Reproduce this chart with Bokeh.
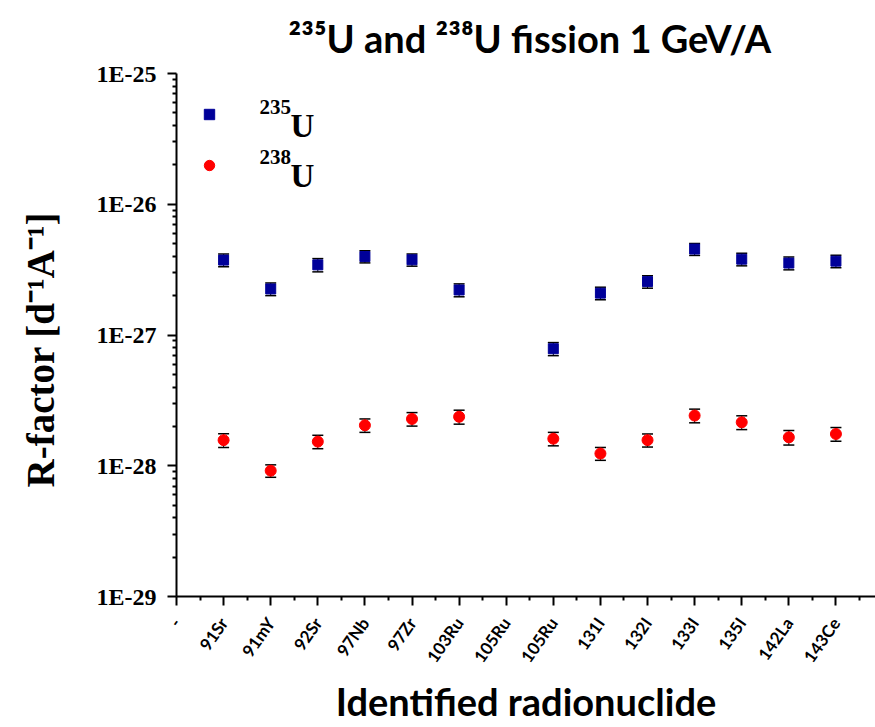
import numpy as np
from bokeh.plotting import figure
from bokeh.models import (ColumnDataSource, Range1d, FixedTicker, CustomJSTickFormatter,
                          Whisker, TeeHead, Legend, LegendItem, Label)
from bokeh.core.properties import value
from bokeh.embed import file_html
from bokeh.resources import INLINE

# Tick labels along the x axis (one per integer position)
tick_labels = ["-", "91Sr", "91mY", "92Sr", "97Nb", "97Zr", "103Ru", "105Ru", "105Ru",
               "131I", "132I", "133I", "135I", "142La", "143Ce"]

# R-factor values [d^-1 A^-1]; None where no measurement exists
r_u235 = [None, 3.74e-27, 2.25e-27, 3.44e-27, 3.98e-27, 3.76e-27, 2.21e-27, None, 7.85e-28,
          2.09e-27, 2.56e-27, 4.54e-27, 3.80e-27, 3.55e-27, 3.67e-27]
err_u235 = [None, 0.42e-27, 0.25e-27, 0.40e-27, 0.42e-27, 0.40e-27, 0.25e-27, None, 0.09e-27,
            0.23e-27, 0.28e-27, 0.48e-27, 0.42e-27, 0.40e-27, 0.40e-27]

r_u238 = [None, 1.57e-28, 0.916e-28, 1.53e-28, 2.04e-28, 2.28e-28, 2.37e-28, None, 1.61e-28,
          1.24e-28, 1.57e-28, 2.42e-28, 2.15e-28, 1.65e-28, 1.75e-28]
err_u238 = [None, 0.19e-28, 0.10e-28, 0.18e-28, 0.24e-28, 0.27e-28, 0.29e-28, None, 0.19e-28,
            0.14e-28, 0.18e-28, 0.29e-28, 0.26e-28, 0.21e-28, 0.21e-28]

title_text = "\u00b2\u00b3\u2075U and \u00b2\u00b3\u2078U fission 1 GeV/A"
x_title = "Identified radionuclide"
# trailing no-break spaces nudge the centred label a little down the axis
y_title = "R-factor  [d\u207b\u00b9A\u207b\u00b9]\u00a0\u00a0"


def to_arr(vals):
    return np.array([np.nan if v is None else v for v in vals], dtype=float)


xpos = np.arange(len(tick_labels), dtype=float)
y235, e235 = to_arr(r_u235), to_arr(err_u235)
y238, e238 = to_arr(r_u238), to_arr(err_u238)
keep235 = ~np.isnan(y235)
keep238 = ~np.isnan(y238)

src235 = ColumnDataSource(dict(x=xpos[keep235], y=y235[keep235],
                               lo=(y235 - e235)[keep235], hi=(y235 + e235)[keep235]))
src238 = ColumnDataSource(dict(x=xpos[keep238], y=y238[keep238],
                               lo=(y238 - e238)[keep238], hi=(y238 + e238)[keep238]))

W, H = 875, 727
LEFT, TOP, BOTTOM = 176, 72, 130
SANS = "Lato"
SERIF = "Liberation Serif"

p = figure(width=W, height=H, output_backend="svg", toolbar_location=None,
           y_axis_type="log",
           x_range=Range1d(0, 14.84), y_range=Range1d(1e-29, 1e-25),
           min_border_left=LEFT, min_border_right=0,
           min_border_top=TOP, min_border_bottom=BOTTOM)
p.outline_line_color = None
p.grid.visible = False
p.background_fill_color = "white"
p.border_fill_color = "white"

# title
p.title.text = title_text
p.title.align = "left"
p.title.offset = 112
p.title.text_font = SANS
p.title.text_font_style = "bold"
p.title.text_font_size = "38px"
p.title.text_color = "black"
p.title.standoff = 25

# error bars under the markers
for src in (src235, src238):
    w = Whisker(base="x", lower="lo", upper="hi", source=src, dimension="height",
                line_color="black", line_width=1,
                upper_head=TeeHead(size=11, line_color="black", line_width=1.5),
                lower_head=TeeHead(size=11, line_color="black", line_width=1.5))
    p.add_layout(w)

r235 = p.scatter("x", "y", source=src235, marker="square", size=10,
                 fill_color="#000099", line_color="#000099")
r238 = p.scatter("x", "y", source=src238, marker="circle", size=11,
                 fill_color="#ff0000", line_color="#ff0000")

# axes
for ax in (p.xaxis[0], p.yaxis[0]):
    ax.axis_line_width = 2
    ax.major_tick_line_width = 2
    ax.minor_tick_line_width = 2
    ax.major_tick_out = 9
    ax.major_tick_in = 0
    ax.minor_tick_out = 4
    ax.minor_tick_in = 0
    ax.axis_line_color = "black"
    ax.major_tick_line_color = "black"
    ax.minor_tick_line_color = "black"
    ax.axis_label_text_font_style = "bold"
    ax.axis_label_text_color = "black"

p.xaxis.ticker = FixedTicker(ticks=list(range(len(tick_labels))),
                             minor_ticks=[i + 0.5 for i in range(len(tick_labels))])
p.xaxis.major_label_overrides = {i: lab for i, lab in enumerate(tick_labels)}
p.xaxis.major_label_orientation = 0.96
p.xaxis.major_label_text_font = SANS
p.xaxis.major_label_text_font_style = "bold"
p.xaxis.major_label_text_font_size = "17px"
p.xaxis.major_label_text_color = "black"
p.xaxis.major_label_standoff = 14
p.xaxis.axis_label = x_title
p.xaxis.axis_label_text_font = SANS
p.xaxis.axis_label_text_font_size = "38px"
p.xaxis.axis_label_standoff = 3

decades = [-29, -28, -27, -26, -25]
p.yaxis.ticker = FixedTicker(ticks=[10.0 ** d for d in decades],
                             minor_ticks=[k * 10.0 ** d for d in decades[:-1] for k in range(2, 10)])
p.yaxis.formatter = CustomJSTickFormatter(code="return '1E' + Math.round(Math.log10(tick));")
p.yaxis.major_label_text_font = SERIF
p.yaxis.major_label_text_font_style = "bold"
p.yaxis.major_label_text_font_size = "24px"
p.yaxis.major_label_text_color = "black"
p.yaxis.major_label_standoff = 11
p.yaxis.axis_label = y_title
p.yaxis.axis_label_text_font = SERIF
p.yaxis.axis_label_text_font_size = "39px"
p.yaxis.axis_label_standoff = 32

# legend markers
legend = Legend(items=[LegendItem(label=value(" "), renderers=[r235]),
                       LegendItem(label=value(" "), renderers=[r238])],
                location=(20, 418), glyph_width=26, glyph_height=26, spacing=25,
                padding=0, margin=0, border_line_alpha=0, background_fill_alpha=0,
                label_text_font_size="1px", label_height=1, label_width=1, label_standoff=0)
p.add_layout(legend)


def txt(text, X, Y, size, font):
    # X, Y are canvas pixels from the top-left; converted to frame-relative screen units
    p.add_layout(Label(x=X - LEFT, y=(H - BOTTOM) - Y, x_units="screen", y_units="screen",
                       text=text, text_align="left", text_baseline="alphabetic",
                       text_font=font, text_font_style="bold", text_font_size=f"{size}px",
                       text_color="black"))


# legend texts with mass-number superscripts
txt("235", 259, 107, 21, SERIF)
txt("U", 290, 126, 33, SERIF)
txt("238", 259, 157, 21, SERIF)
txt("U", 290, 176, 33, SERIF)

open("out.html", "w").write(file_html(p, INLINE))
